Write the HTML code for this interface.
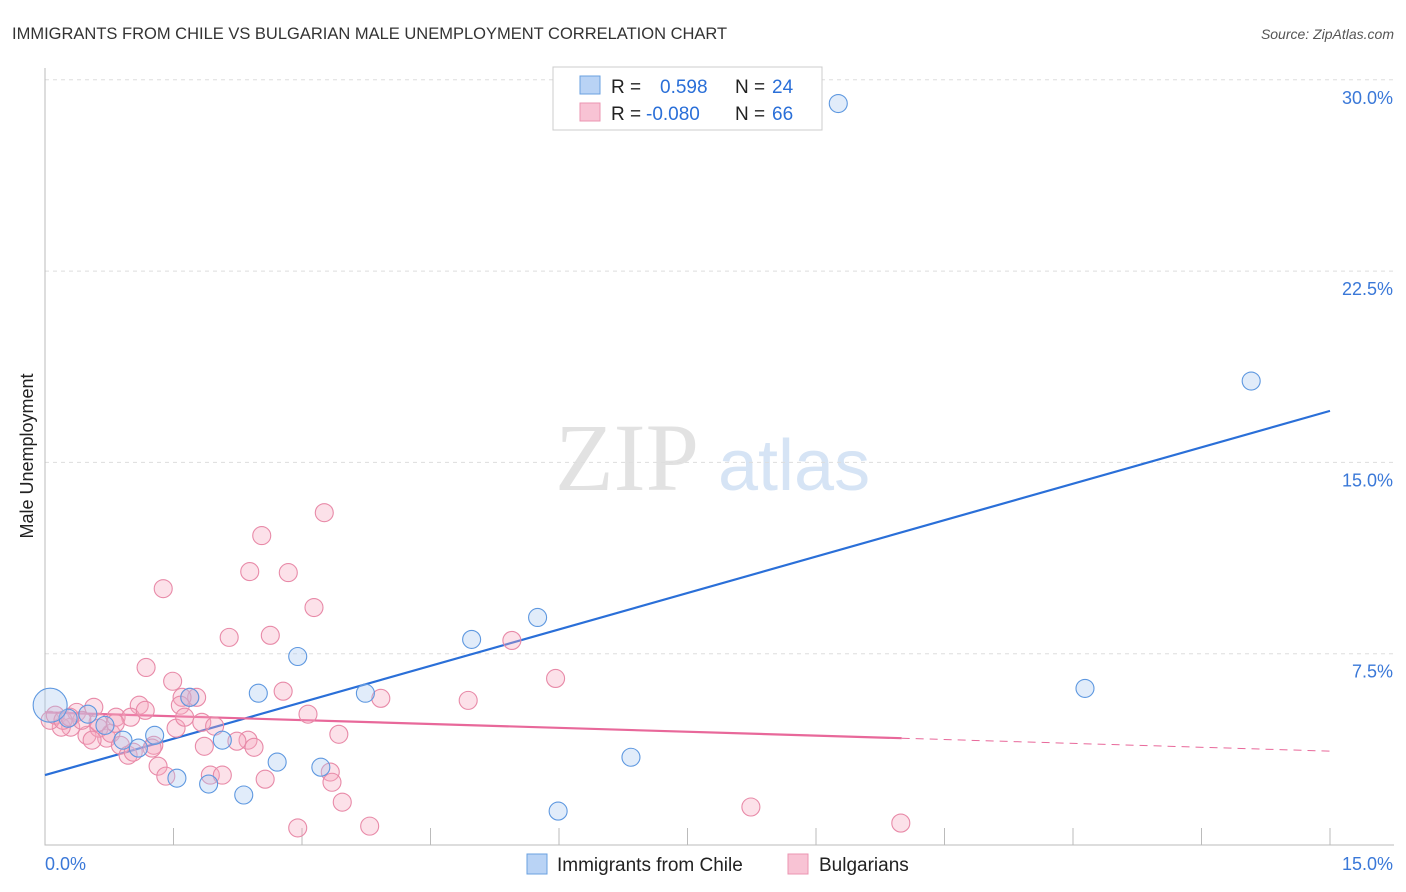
<!DOCTYPE html>
<html><head><meta charset="utf-8"><style>
body{margin:0;background:#fff;font-family:"Liberation Sans",sans-serif;}
svg{display:block}
</style></head><body>
<svg id="c" width="1406" height="892">
<text x="12" y="39" font-size="16.5" fill="#333">IMMIGRANTS FROM CHILE VS BULGARIAN MALE UNEMPLOYMENT CORRELATION CHART</text>
<text x="1394" y="39" font-size="14" font-style="italic" fill="#555" text-anchor="end">Source: ZipAtlas.com</text>
<text x="33" y="456" font-size="18" fill="#222" text-anchor="middle" transform="rotate(-90 33 456)">Male Unemployment</text>
<text x="555" y="490" font-size="96" fill="#e2e2e2" font-family="Liberation Serif,serif">ZIP</text>
<text x="718" y="490" font-size="72" fill="#d6e4f5">atlas</text>
<g id="grid"></g><g id="axes"></g><g id="trends"></g><g id="pts"></g>
<g>
<rect x="553" y="67" width="269" height="63" fill="#fff" stroke="#ccc"/>
<rect x="580" y="76" width="20" height="18" fill="#b9d3f5" stroke="#6aa0e0"/>
<rect x="580" y="103" width="20" height="18" fill="#f8c3d4" stroke="#eb95b2"/>
<text x="611" y="93" font-size="19" fill="#222">R = </text><text x="660" y="93" font-size="19" fill="#2a6fd8">0.598</text>
<text x="735" y="93" font-size="19" fill="#222">N = </text><text x="772" y="93" font-size="19" fill="#2a6fd8">24</text>
<text x="611" y="120" font-size="19" fill="#222">R = </text><text x="646" y="120" font-size="19" fill="#2a6fd8">-0.080</text>
<text x="735" y="120" font-size="19" fill="#222">N = </text><text x="772" y="120" font-size="19" fill="#2a6fd8">66</text>
</g>
<g>
<rect x="527" y="854" width="20" height="20" fill="#b9d3f5" stroke="#6aa0e0"/>
<text x="557" y="871" font-size="19" fill="#222">Immigrants from Chile</text>
<rect x="788" y="854" width="20" height="20" fill="#f8c3d4" stroke="#eb95b2"/>
<text x="819" y="871" font-size="19" fill="#222">Bulgarians</text>
</g>
</svg>
<script>
const blueX=[9.26,14.08,12.14,5.75,4.98,2.95,3.74,2.49,6.84,5.99,2.71,3.22,2.32,1.91,1.54,2.07,1.28,0.91,1.09,0.70,0.50,0.27,0.06,1.69];
const blueY=[29.07,18.19,6.14,8.92,8.06,7.39,5.95,5.95,3.44,1.33,3.25,3.05,1.96,2.39,2.62,4.11,4.30,4.11,3.80,4.69,5.13,4.97,5.48,5.79];
const pinkX=[3.26,2.53,1.38,2.39,2.84,3.14,2.15,2.63,5.45,1.18,5.96,1.49,2.78,3.92,4.94,1.69,1.77,1.60,1.58,1.10,0.57,3.07,0.83,1.00,1.17,1.83,1.53,1.98,3.43,2.37,2.24,1.86,2.44,1.27,0.72,0.49,0.30,0.19,0.06,0.12,0.37,0.63,0.77,0.88,0.97,1.25,1.32,1.41,1.93,2.07,2.57,3.33,3.35,3.47,2.95,3.79,8.24,9.99,0.62,0.82,0.43,0.21,1.63,0.55,1.03,0.29];
const pinkY=[13.03,12.13,10.05,10.72,10.68,9.31,8.14,8.22,8.02,6.96,6.53,6.42,6.03,5.75,5.67,5.79,5.79,5.79,5.48,5.48,5.40,5.13,5.01,5.01,5.28,4.81,4.58,4.66,4.34,4.11,4.07,3.87,3.83,3.91,4.19,4.30,4.62,4.62,4.89,5.09,5.20,4.58,4.38,3.91,3.52,3.80,3.09,2.70,2.74,2.74,2.58,2.86,2.46,1.68,0.67,0.74,1.49,0.86,4.81,4.77,4.89,4.89,5.01,4.11,3.64,5.01];
const yTicks=[7.5,15,22.5,30];
const yTickLabels=["7.5%","15.0%","22.5%","30.0%"];
const xTicks=[1.5,3,4.5,6,7.5,9,10.5,12,13.5,15];
const blueTrend=[2.74,17.02];
const pinkTrend=[5.20,3.68];
const pinkSolidEnd=10.0;
const NS="http://www.w3.org/2000/svg";
const X=v=>45+v/15*1285, Y=v=>845-v/7.5*191.3;
function mk(p,t,a){const e=document.createElementNS(NS,t);for(const k in a)e.setAttribute(k,a[k]);p.appendChild(e);return e;}
const grid=document.getElementById('grid'),axes=document.getElementById('axes'),tr=document.getElementById('trends'),pts=document.getElementById('pts');
yTicks.forEach((v,i)=>{
 const l=mk(grid,'line',{x1:45,x2:1394,y1:Y(v),y2:Y(v),stroke:'#ddd','stroke-dasharray':'4 4'});
 
 
 const t=mk(grid,'text',{x:1393,y:Y(v)+24,'font-size':18,fill:'#3a78d8','text-anchor':'end'});
 t.textContent=yTickLabels[i];
 
 
});
const ax=mk(axes,'path',{d:'M45 68V845H1394',stroke:'#bbb',fill:'none'});


xTicks.forEach(v=>{const l=mk(axes,'line',{x1:X(v),x2:X(v),y1:828,y2:845,stroke:'#bbb'});
 
 });
const x0=mk(axes,'text',{x:45,y:870,'font-size':18,fill:'#3a78d8'});x0.textContent='0.0%';


const x1=mk(axes,'text',{x:1393,y:870,'font-size':18,fill:'#3a78d8','text-anchor':'end'});x1.textContent='15.0%';


function draw(xs,ys,fill,stroke,name){xs.forEach((x,i)=>{const big=(x<0.1&&name==='chile-point');
 const c=mk(pts,'circle',{cx:X(x),cy:Y(ys[i]),r:big?17:9,fill:fill,'fill-opacity':0.35,stroke:stroke,'stroke-width':1.1});
 
 });}
draw(pinkX,pinkY,'#f6a8c0','#e88aa8','bulgarian-point');
draw(blueX,blueY,'#a8c8f0','#5e98e0','chile-point');
const bt=mk(tr,'line',{x1:X(0),y1:Y(blueTrend[0]),x2:X(15),y2:Y(blueTrend[1]),stroke:'#2a6fd8','stroke-width':2.2});


const py=v=>pinkTrend[0]+(pinkTrend[1]-pinkTrend[0])*v/15;
const pt=mk(tr,'line',{x1:X(0),y1:Y(py(0)),x2:X(pinkSolidEnd),y2:Y(py(pinkSolidEnd)),stroke:'#e8689a','stroke-width':2.2});


const pd=mk(tr,'line',{x1:X(pinkSolidEnd),y1:Y(py(pinkSolidEnd)),x2:X(15),y2:Y(py(15)),stroke:'#e8689a','stroke-width':1,'stroke-dasharray':'8 6'});


</script>
</body></html>
